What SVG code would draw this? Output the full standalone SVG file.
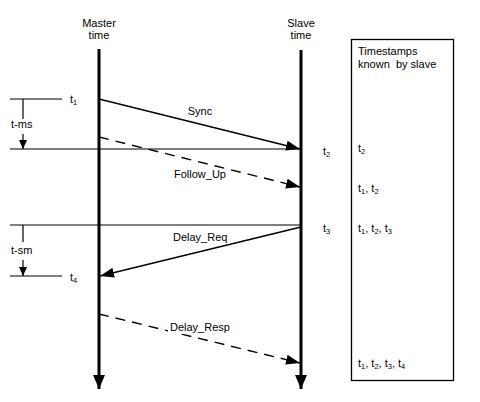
<svg xmlns="http://www.w3.org/2000/svg" width="480" height="402" viewBox="0 0 480 402">
<style>
text{font-family:"Liberation Sans",Arial,sans-serif;font-size:11px;fill:#000}
.sub{font-size:7.5px}
.tl{stroke:#000;stroke-width:3;fill:none}
.ln{stroke:#000;stroke-width:1.2;fill:none}
.msg{stroke:#000;stroke-width:1.4;fill:none}
.dash{stroke-dasharray:10,7}
</style>
<defs>
<marker id="big" markerUnits="userSpaceOnUse" markerWidth="14" markerHeight="12" refX="14" refY="6" orient="auto"><path d="M0,0 L14,6 L0,12 z" fill="#000"/></marker>
<marker id="msgA" markerUnits="userSpaceOnUse" markerWidth="14" markerHeight="10" refX="14" refY="5" orient="auto"><path d="M0,0 L14,5 L0,10 z" fill="#000"/></marker>
<marker id="sm" markerUnits="userSpaceOnUse" markerWidth="9" markerHeight="8" refX="9" refY="4" orient="auto"><path d="M0,0 L9,4 L0,8 z" fill="#000"/></marker>
</defs>
<rect width="480" height="402" fill="#fff"/>
<g id="master">
<text x="99" y="27" text-anchor="middle">Master</text>
<text x="99" y="39" text-anchor="middle">time</text>
<line class="tl" x1="99" y1="49" x2="99" y2="389" marker-end="url(#big)"/>
</g>
<g id="slave">
<text x="301" y="27" text-anchor="middle">Slave</text>
<text x="301" y="39" text-anchor="middle">time</text>
<line class="tl" x1="301" y1="50" x2="301" y2="389" marker-end="url(#big)"/>
</g>
<g id="box">
<rect x="351.5" y="39.5" width="102" height="341" fill="none" stroke="#000" stroke-width="1.3"/>
<text x="358" y="55">Timestamps</text>
<text x="358" y="68" xml:space="preserve">known  by slave</text>
<text x="358" y="152">t<tspan class="sub" dy="2">2</tspan></text>
<text x="358" y="192">t<tspan class="sub" dy="2">1</tspan><tspan dy="-2">, t</tspan><tspan class="sub" dy="2">2</tspan></text>
<text x="358" y="232">t<tspan class="sub" dy="2">1</tspan><tspan dy="-2">, t</tspan><tspan class="sub" dy="2">2</tspan><tspan dy="-2">, t</tspan><tspan class="sub" dy="2">3</tspan></text>
<text x="358" y="367">t<tspan class="sub" dy="2">1</tspan><tspan dy="-2">, t</tspan><tspan class="sub" dy="2">2</tspan><tspan dy="-2">, t</tspan><tspan class="sub" dy="2">3</tspan><tspan dy="-2">, t</tspan><tspan class="sub" dy="2">4</tspan></text>
</g>
<g id="t-ms">
<line class="ln" x1="10" y1="99" x2="62" y2="99"/>
<line class="ln" x1="23" y1="99" x2="23" y2="119"/>
<text x="11" y="128">t-ms</text>
<line class="ln" x1="23" y1="134" x2="23" y2="149" marker-end="url(#sm)"/>
<text x="70" y="103">t<tspan class="sub" dy="2">1</tspan></text>
</g>
<g id="t-sm">
<line class="ln" x1="10" y1="276" x2="62" y2="276"/>
<line class="ln" x1="23" y1="225" x2="23" y2="242"/>
<text x="11" y="254">t-sm</text>
<line class="ln" x1="23" y1="260" x2="23" y2="276" marker-end="url(#sm)"/>
<text x="70" y="281">t<tspan class="sub" dy="2">4</tspan></text>
</g>
<g id="slave-labels">
<text x="323" y="155">t<tspan class="sub" dy="2">2</tspan></text>
<text x="323" y="232">t<tspan class="sub" dy="2">3</tspan></text>
</g>
<g id="connectors">
<line class="ln" x1="10" y1="149" x2="301" y2="149"/>
<line class="ln" x1="10" y1="225" x2="301" y2="225"/>
<line class="msg" x1="99" y1="99" x2="300" y2="149" marker-end="url(#msgA)"/>
<line class="msg dash" x1="99" y1="137" x2="300" y2="187" marker-end="url(#msgA)"/>
<line class="msg" x1="301" y1="227" x2="100" y2="276" marker-end="url(#msgA)"/>
<line class="msg dash" x1="99" y1="314" x2="300" y2="363" marker-end="url(#msgA)"/>
</g>
<g id="labels">
<text x="200" y="115" text-anchor="middle">Sync</text>
<text x="174" y="178">Follow_Up</text>
<rect x="172" y="232" width="58" height="12" fill="#fff"/>
<text x="173" y="241">Delay_Req</text>
<rect x="168" y="322" width="62" height="12" fill="#fff"/>
<text x="170" y="331">Delay_Resp</text>
</g>
</svg>
